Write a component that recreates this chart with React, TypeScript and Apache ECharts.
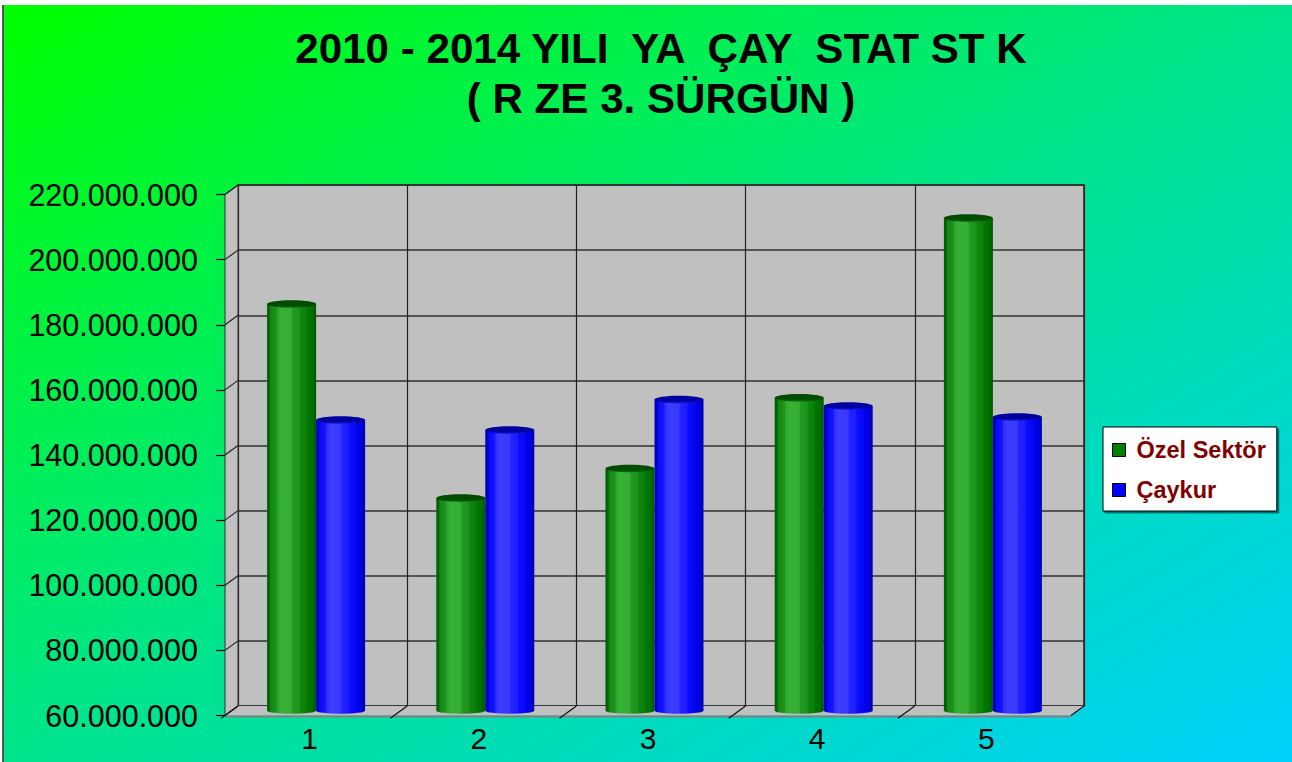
import React, { useEffect, useRef } from "react";
import * as echarts from "echarts";

// ---- data ----
const categories = ["1", "2", "3", "4", "5"];
const ozelSektor = [184900000, 125300000, 134400000, 156100000, 211300000];
const caykur = [149300000, 146200000, 155600000, 153600000, 150200000];
const seriesNames = ["Özel Sektör", "Çaykur"];
const titleLines = ["2010 - 2014 YILI  YA  ÇAY  STAT ST K", "( R ZE 3. SÜRGÜN )"];
const yMin = 60000000;
const yMax = 220000000;
const yStep = 20000000;

// ---- layout (page px) ----
const OX = 4;
const OY = 5;
const BACK_LEFT = 238;
const BACK_TOP = 185;
const PLOT_W = 846;
const PLOT_H = 521;
const DX = -13;
const DY = 9.5;
const BAR_W = 49;
const FONT = '"Liberation Sans", Arial, Helvetica, sans-serif';

const fmt = (v: number) => String(v).replace(/\B(?=(\d{3})+(?!\d))/g, ".");

const greenBody = () =>
  new echarts.graphic.LinearGradient(0, 0, 1, 0, [
    { offset: 0, color: "#005a00" },
    { offset: 0.06, color: "#006f00" },
    { offset: 0.07, color: "#158515" },
    { offset: 0.2, color: "#1f931f" },
    { offset: 0.21, color: "#2ba52b" },
    { offset: 0.3, color: "#36b236" },
    { offset: 0.5, color: "#33ae33" },
    { offset: 0.52, color: "#229a22" },
    { offset: 0.66, color: "#1c921c" },
    { offset: 0.68, color: "#0f860f" },
    { offset: 0.8, color: "#0a800a" },
    { offset: 0.82, color: "#007700" },
    { offset: 0.94, color: "#006d00" },
    { offset: 1, color: "#005400" },
  ]);

const blueBody = () =>
  new echarts.graphic.LinearGradient(0, 0, 1, 0, [
    { offset: 0, color: "#0000b0" },
    { offset: 0.06, color: "#0000d8" },
    { offset: 0.07, color: "#0808f4" },
    { offset: 0.2, color: "#1616ff" },
    { offset: 0.21, color: "#2c2cff" },
    { offset: 0.3, color: "#3d3dff" },
    { offset: 0.5, color: "#3838ff" },
    { offset: 0.52, color: "#2424ff" },
    { offset: 0.66, color: "#1c1cff" },
    { offset: 0.68, color: "#0c0cff" },
    { offset: 0.82, color: "#0606f6" },
    { offset: 0.84, color: "#0000e8" },
    { offset: 0.94, color: "#0000d8" },
    { offset: 1, color: "#0000a8" },
  ]);

const capGradient = (dark: string, light: string) =>
  new echarts.graphic.LinearGradient(0, 0, 0, 1, [
    { offset: 0, color: dark },
    { offset: 0.7, color: dark },
    { offset: 1, color: light },
  ]);

function makeCapSeries(name: string, values: number[], side: number, body: () => any, dark: string, light: string) {
  return {
    type: "custom",
    name,
    xAxisIndex: 1,
    yAxisIndex: 1,
    z: 4,
    silent: true,
    data: values.map((v, i) => [i, v]),
    renderItem: (params: any, api: any) => {
      const i = api.value(0);
      const v = api.value(1);
      const top = api.coord([i, v]);
      const bottom = api.coord([i, yMin]);
      const cx = top[0] + side * (BAR_W / 2);
      const rx = BAR_W / 2;
      return {
        type: "group",
        children: [
          {
            type: "ellipse",
            shape: { cx, cy: bottom[1], rx, ry: 3 },
            style: { fill: body() },
          },
          {
            type: "ellipse",
            shape: { cx, cy: top[1], rx, ry: 3.8 },
            style: { fill: capGradient(dark, light) },
          },
        ],
      };
    },
  };
}

export default function App() {
  const ref = useRef<HTMLDivElement>(null);

  useEffect(() => {
    if (!ref.current) return;
    const chart = echarts.init(ref.current, null, { renderer: "svg" });

    const baseGrid = { width: PLOT_W, height: PLOT_H, containLabel: false };
    const grid0 = { ...baseGrid, left: BACK_LEFT - OX, top: BACK_TOP - OY, show: true, backgroundColor: "#c0c0c0", borderColor: "#202020", borderWidth: 1.5 };
    const grid1 = { ...baseGrid, left: BACK_LEFT + DX / 2 - OX, top: BACK_TOP + DY / 2 - OY };
    const grid2 = { ...baseGrid, left: BACK_LEFT + DX - OX, top: BACK_TOP + DY - OY };

    const valueAxisBase = { type: "value", min: yMin, max: yMax, interval: yStep };

    const option: any = {
      animation: false,
      backgroundColor: "transparent",
      textStyle: { fontFamily: FONT },
      graphic: titleLines.map((t, k) => ({
        type: "text",
        x: 657,
        y: 48 + k * 50 - OY,
        scaleX: 0.98,
        z: 10,
        style: {
          text: t,
          fill: "#000",
          font: `bold 43px ${FONT}`,
          textAlign: "center",
          textVerticalAlign: "middle",
          verticalAlign: "middle",
        },
      })),
      legend: {
        orient: "vertical",
        left: 1103 - OX,
        top: 427 - OY,
        padding: [11, 11, 9, 9],
        itemGap: 16,
        itemWidth: 13,
        itemHeight: 13,
        backgroundColor: "#ffffff",
        borderColor: "#000",
        borderWidth: 1,
        shadowColor: "rgba(0,0,0,0.45)",
        shadowOffsetX: 2,
        shadowOffsetY: 2,
        shadowBlur: 0,
        selectedMode: false,
        icon: "rect",
        textStyle: { fontSize: 23.5, fontWeight: "bold", color: "#800000", fontFamily: FONT, padding: [0, 0, 0, 6] },
        data: [
          { name: seriesNames[0], itemStyle: { color: "#008000", borderColor: "#000", borderWidth: 1 } },
          { name: seriesNames[1], itemStyle: { color: "#0000ff", borderColor: "#000", borderWidth: 1 } },
        ],
      },
      grid: [grid0, grid1, grid2],
      xAxis: [
        {
          type: "category",
          gridIndex: 0,
          data: categories,
          axisLine: { show: false },
          axisTick: { show: false },
          axisLabel: { show: false },
          splitLine: { show: true, lineStyle: { color: "#202020", width: 1.2 } },
        },
        { type: "category", gridIndex: 1, data: categories, show: false },
        {
          type: "category",
          gridIndex: 2,
          data: categories,
          axisLine: { show: false },
          axisTick: { show: false },
          splitLine: { show: false },
          axisLabel: { show: true, fontSize: 30, color: "#000", margin: 8, fontFamily: FONT },
        },
      ],
      yAxis: [
        {
          ...valueAxisBase,
          gridIndex: 0,
          axisLine: { show: false },
          axisTick: { show: false },
          axisLabel: { show: false },
          splitLine: { show: true, lineStyle: { color: "#303030", width: 1.5 } },
        },
        { ...valueAxisBase, gridIndex: 1, show: false, splitLine: { show: false } },
        {
          ...valueAxisBase,
          gridIndex: 2,
          axisLine: { show: true, lineStyle: { color: "#303030", width: 1 } },
          axisTick: { show: true, length: 9, lineStyle: { color: "#000", width: 1.2 } },
          splitLine: { show: false },
          axisLabel: { show: true, fontSize: 30.5, color: "#000", margin: 27, fontFamily: FONT, formatter: (v: number) => fmt(v), padding: [6, 0, 0, 0] },
        },
      ],
      series: [
        {
          type: "custom",
          name: "walls",
          xAxisIndex: 0,
          yAxisIndex: 0,
          z: 1,
          silent: true,
          data: [[0, yMin]],
          renderItem: (params: any, api: any) => {
            const cs = params.coordSys;
            const x0 = cs.x;
            const x1 = cs.x + cs.width;
            const yT = cs.y;
            const yB = cs.y + cs.height;
            const children: any[] = [];
            children.push({
              type: "polygon",
              shape: { points: [[x0, yT], [x0 + DX, yT + DY], [x0 + DX, yB + DY], [x0, yB]] },
              style: { fill: "#c0c0c0", stroke: "#303030", lineWidth: 1 },
            });
            children.push({
              type: "polygon",
              shape: { points: [[x0, yB], [x1, yB], [x1 + DX, yB + DY], [x0 + DX, yB + DY]] },
              style: { fill: "#c0c0c0" },
            });
            children.push({
              type: "line",
              shape: { x1: x0 + DX, y1: yB + DY + 1, x2: x1 + DX, y2: yB + DY + 1 },
              style: { stroke: "#808080", lineWidth: 2 },
            });
            for (let v = yMin; v <= yMax; v += yStep) {
              const y = api.coord([0, v])[1];
              children.push({
                type: "line",
                shape: { x1: x0, y1: y, x2: x0 + DX, y2: y + DY },
                style: { stroke: "#202020", lineWidth: 1.2 },
              });
            }
            const bw = api.size([1, 0])[0];
            for (let k = 0; k <= categories.length; k++) {
              const xb = x0 + k * bw;
              const f = k === categories.length ? 1 : 1.3;
              children.push({
                type: "line",
                shape: { x1: xb, y1: yB, x2: xb + DX * f, y2: yB + DY * f },
                style: { stroke: "#101010", lineWidth: 1.2 },
              });
            }
            return { type: "group", children };
          },
        },
        {
          type: "bar",
          name: seriesNames[0],
          xAxisIndex: 1,
          yAxisIndex: 1,
          barWidth: BAR_W,
          barGap: "0%",
          z: 3,
          data: ozelSektor,
          itemStyle: { color: greenBody() },
        },
        {
          type: "bar",
          name: seriesNames[1],
          xAxisIndex: 1,
          yAxisIndex: 1,
          barWidth: BAR_W,
          barGap: "0%",
          z: 3,
          data: caykur,
          itemStyle: { color: blueBody() },
        },
        makeCapSeries("capG", ozelSektor, -1, greenBody, "#004c00", "#127212"),
        makeCapSeries("capB", caykur, 1, blueBody, "#0000a0", "#1818d8"),
      ],
    };

    chart.setOption(option);
    return () => chart.dispose();
  }, []);

  return (
    <div style={{ position: "absolute", left: 0, top: 0, width: 1292, height: 762, background: "#fff", overflow: "hidden" }}>
      <div style={{ position: "absolute", left: 2, top: 5, width: 2, height: 757, background: "#555" }} />
      <div
        ref={ref}
        style={{
          position: "absolute",
          left: OX,
          top: OY,
          width: 1288,
          height: 757,
          background: "linear-gradient(to bottom right, #00ff00 0%, #00e48c 50%, #00d0fc 100%)",
        }}
      />
    </div>
  );
}
